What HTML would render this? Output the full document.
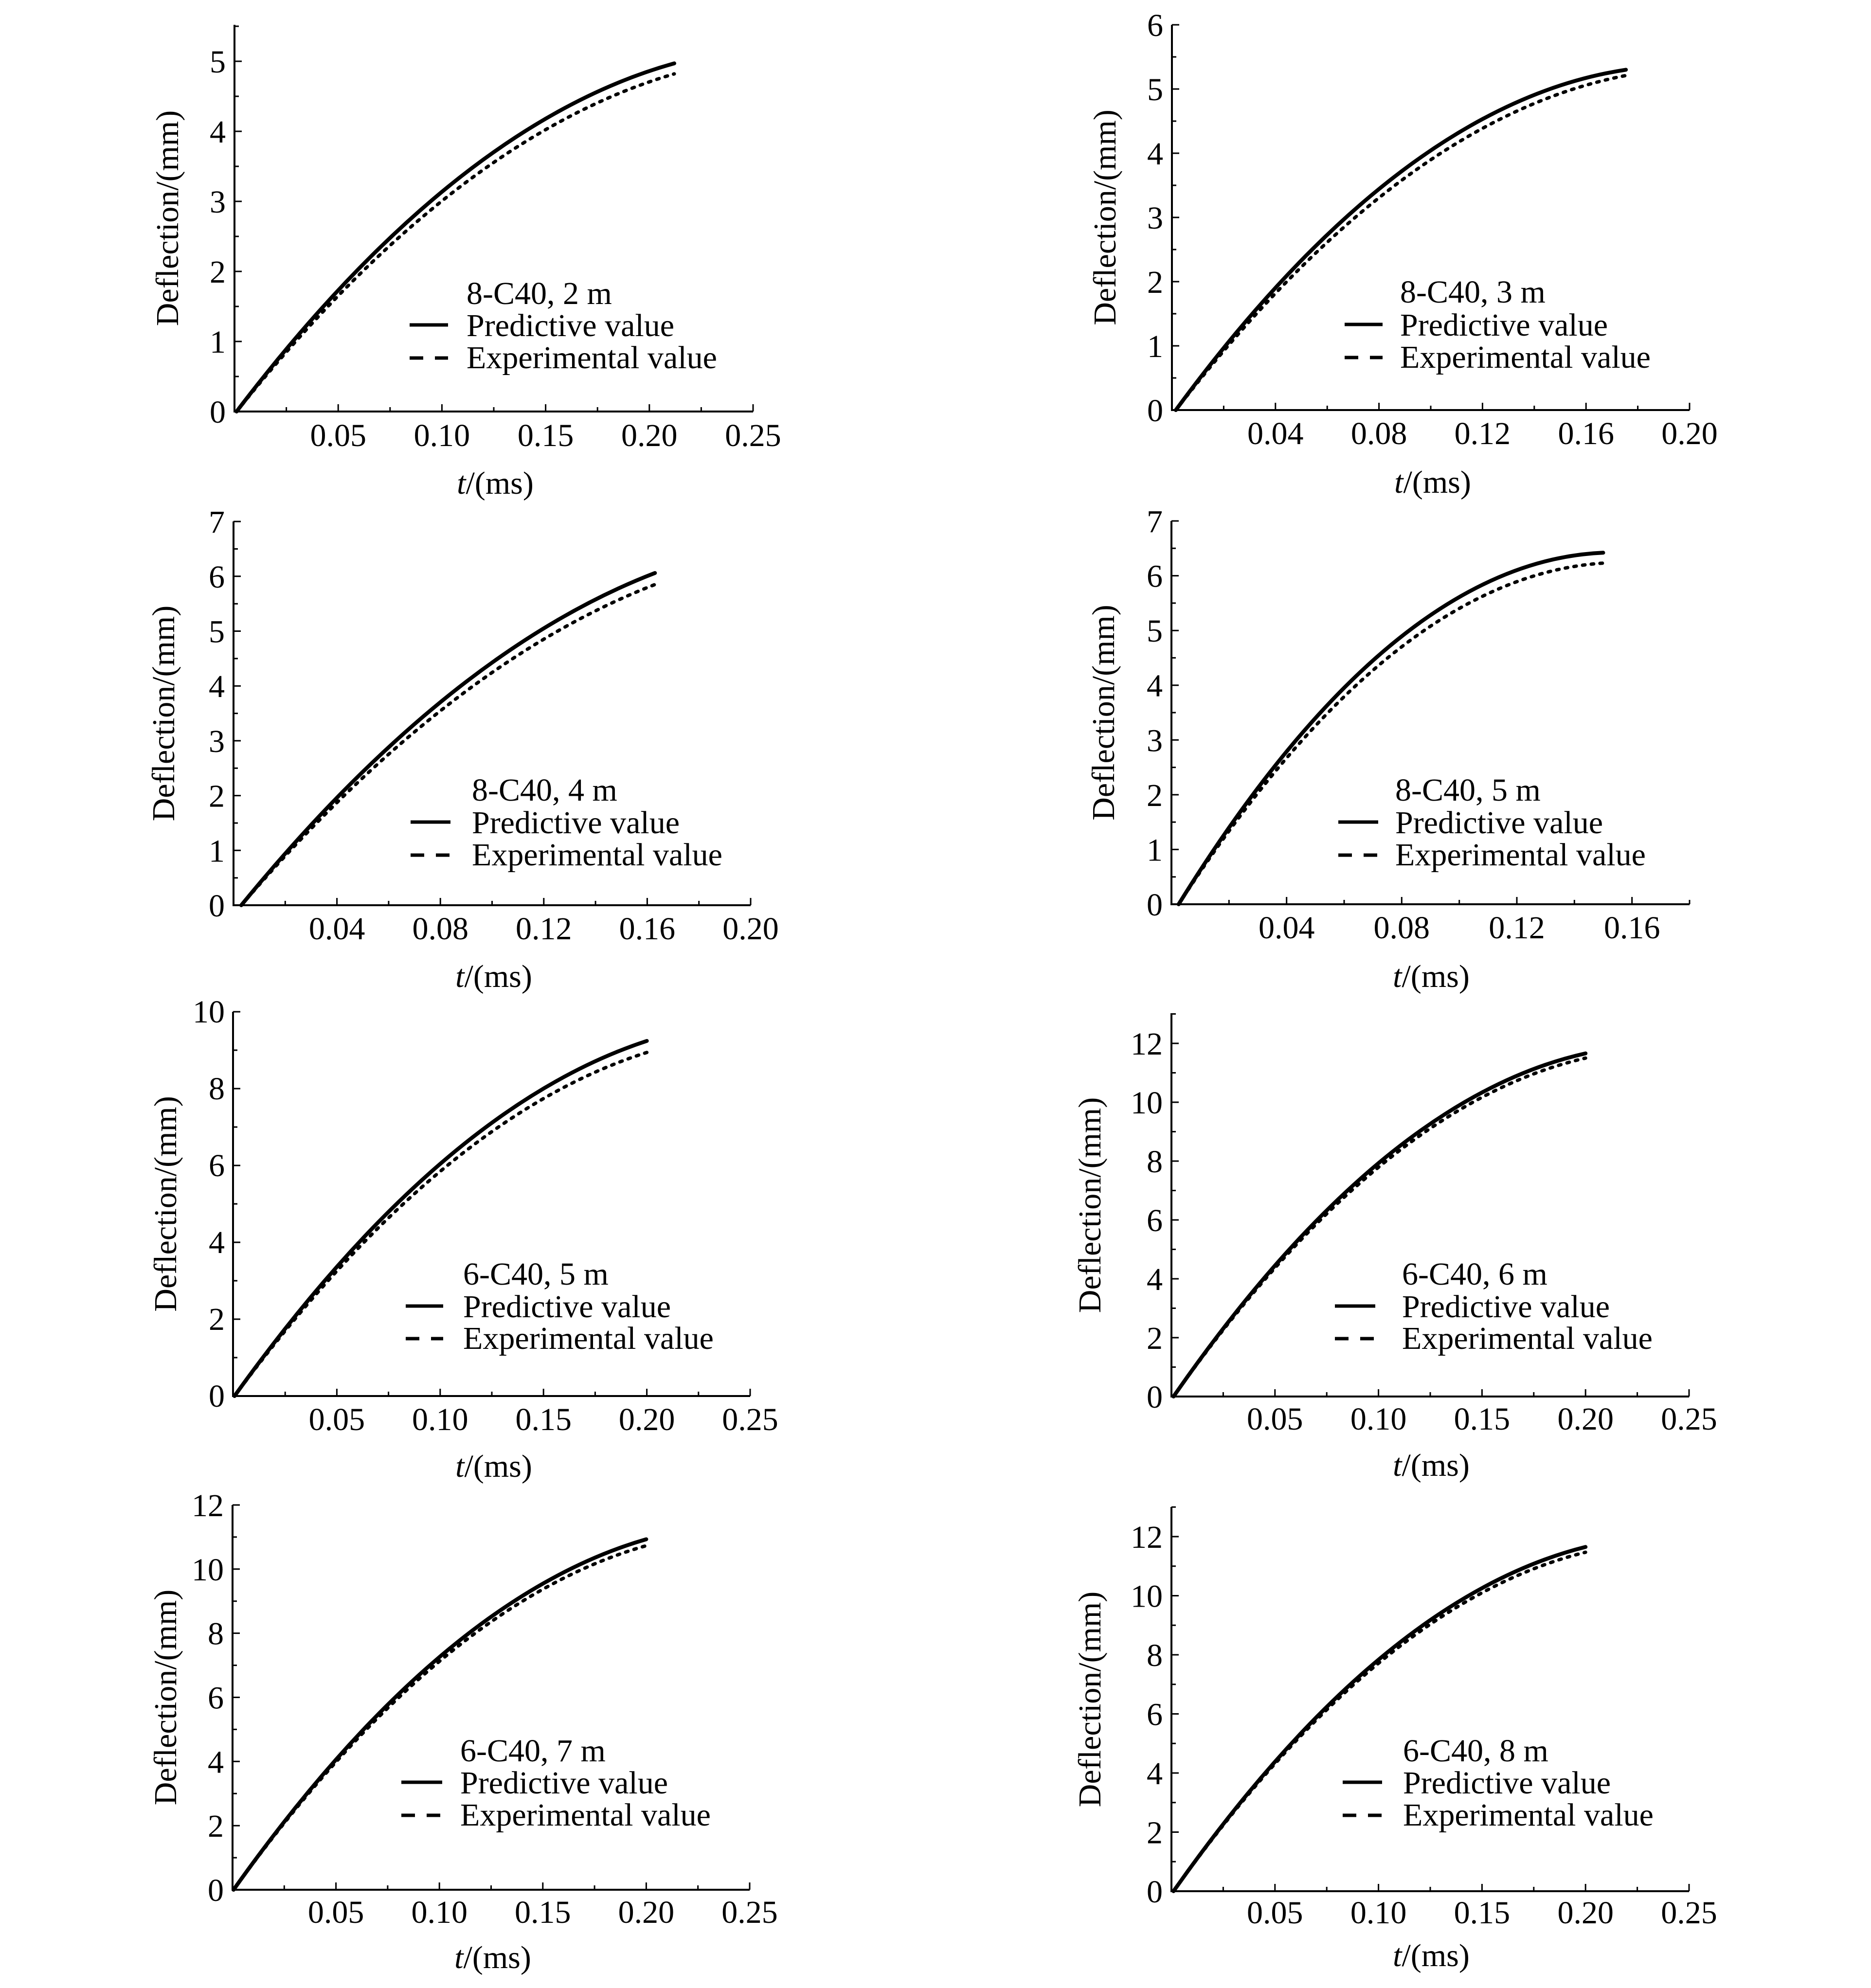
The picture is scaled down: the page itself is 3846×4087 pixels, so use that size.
<!DOCTYPE html>
<html><head><meta charset="utf-8"><style>
html,body{margin:0;padding:0;background:#fff;}
svg{display:block}
text{font-family:"Liberation Serif","Times New Roman",serif;font-size:66px;fill:#000}
.ax{fill:none;stroke:#000;stroke-width:4}
.tk{fill:none;stroke:#000;stroke-width:3}
.s{fill:none;stroke:#000;stroke-width:8;stroke-linecap:round}
.d{fill:none;stroke:#000;stroke-width:7;stroke-linecap:round;stroke-dasharray:5 13}
.ls{fill:none;stroke:#000;stroke-width:7}
.ld{fill:none;stroke:#000;stroke-width:7;stroke-dasharray:28 24}
.ye{text-anchor:end}
.xm{text-anchor:middle}
</style></head><body>
<svg width="3846" height="4087" viewBox="0 0 3846 4087" xmlns="http://www.w3.org/2000/svg">
<rect width="3846" height="4087" fill="#fff"/>

<!-- Panel 1 -->
<path class="ax" d="M482,51 V846 H1548"/>
<path class="tk" d="M588.6,846v-9 M695.2,846v-15 M801.8,846v-9 M908.4,846v-15 M1015,846v-9 M1121.6,846v-15 M1228.2,846v-9 M1334.8,846v-15 M1441.4,846v-9 M1548,846v-15 M482,774h9 M482,702h15 M482,630h9 M482,558h15 M482,486h9 M482,414h15 M482,342h9 M482,270h15 M482,198h9 M482,126h15 M482,54h9"/>
<g class="ye"><text x="464" y="869">0</text><text x="464" y="725">1</text><text x="464" y="581">2</text><text x="464" y="437">3</text><text x="464" y="293">4</text><text x="464" y="149">5</text></g>
<g class="xm"><text x="695.2" y="917">0.05</text><text x="908.4" y="917">0.10</text><text x="1121.6" y="917">0.15</text><text x="1334.8" y="917">0.20</text><text x="1548" y="917">0.25</text></g>
<text class="xm" x="1018" y="1015"><tspan font-style="italic">t</tspan>/(ms)</text>
<text class="xm" transform="translate(366,448.5) rotate(-90)">Deflection/(mm)</text>
<path class="s" d="M486.3,846 Q936.1,255.5 1386,130.3"/>
<path class="d" d="M486.3,846 Q936.1,283.8 1386,151.9"/>
<text x="959" y="625">8-C40, 2 m</text><text x="959" y="691">Predictive value</text><text x="959" y="757">Experimental value</text>
<path class="ls" d="M842,668 H921"/><path class="ld" d="M842,736 H921"/>

<!-- Panel 2 -->
<path class="ax" d="M2409,51 V843 H3473"/>
<path class="tk" d="M2515.4,843v-9 M2621.8,843v-15 M2728.2,843v-9 M2834.6,843v-15 M2941,843v-9 M3047.4,843v-15 M3153.8,843v-9 M3260.2,843v-15 M3366.6,843v-9 M3473,843v-15 M2409,777h9 M2409,711h15 M2409,645h9 M2409,579h15 M2409,513h9 M2409,447h15 M2409,381h9 M2409,315h15 M2409,249h9 M2409,183h15 M2409,117h9 M2409,51h15"/>
<g class="ye"><text x="2391" y="866">0</text><text x="2391" y="734">1</text><text x="2391" y="602">2</text><text x="2391" y="470">3</text><text x="2391" y="338">4</text><text x="2391" y="206">5</text><text x="2391" y="74">6</text></g>
<g class="xm"><text x="2621.8" y="913">0.04</text><text x="2834.6" y="913">0.08</text><text x="3047.4" y="913">0.12</text><text x="3260.2" y="913">0.16</text><text x="3473" y="913">0.20</text></g>
<text class="xm" x="2945" y="1013"><tspan font-style="italic">t</tspan>/(ms)</text>
<text class="xm" transform="translate(2293,447) rotate(-90)">Deflection/(mm)</text>
<path class="s" d="M2417,843 Q2879.6,213.4 3342.1,143.4"/>
<path class="d" d="M2417,843 Q2879.6,244.7 3342.1,155.3"/>
<text x="2878" y="622">8-C40, 3 m</text><text x="2878" y="690">Predictive value</text><text x="2878" y="756">Experimental value</text>
<path class="ls" d="M2764,667 H2842"/><path class="ld" d="M2764,735 H2842"/>

<!-- Panel 3 -->
<path class="ax" d="M480,1072 V1861 H1543"/>
<path class="tk" d="M586.3,1861v-9 M692.6,1861v-15 M798.9,1861v-9 M905.2,1861v-15 M1011.5,1861v-9 M1117.8,1861v-15 M1224.1,1861v-9 M1330.4,1861v-15 M1436.7,1861v-9 M1543,1861v-15 M480,1804.7h9 M480,1748.3h15 M480,1692h9 M480,1635.6h15 M480,1579.3h9 M480,1522.9h15 M480,1466.6h9 M480,1410.2h15 M480,1353.9h9 M480,1297.5h15 M480,1241.2h9 M480,1184.8h15 M480,1128.5h9 M480,1072.1h15"/>
<g class="ye"><text x="462" y="1884">0</text><text x="462" y="1771.3">1</text><text x="462" y="1658.6">2</text><text x="462" y="1545.9">3</text><text x="462" y="1433.2">4</text><text x="462" y="1320.5">5</text><text x="462" y="1207.8">6</text><text x="462" y="1095.1">7</text></g>
<g class="xm"><text x="692.6" y="1931">0.04</text><text x="905.2" y="1931">0.08</text><text x="1117.8" y="1931">0.12</text><text x="1330.4" y="1931">0.16</text><text x="1543" y="1931">0.20</text></g>
<text class="xm" x="1015" y="2029"><tspan font-style="italic">t</tspan>/(ms)</text>
<text class="xm" transform="translate(358,1466.5) rotate(-90)">Deflection/(mm)</text>
<path class="s" d="M496,1861 Q921.2,1341.9 1346.3,1178"/>
<path class="d" d="M496,1861 Q921.2,1366.5 1346.3,1201.7"/>
<text x="970" y="1646">8-C40, 4 m</text><text x="970" y="1713">Predictive value</text><text x="970" y="1779">Experimental value</text>
<path class="ls" d="M844,1690 H926"/><path class="ld" d="M844,1758 H926"/>

<!-- Panel 4 -->
<path class="ax" d="M2408,1071 V1859 H3473"/>
<path class="tk" d="M2526.3,1859v-9 M2644.7,1859v-15 M2763,1859v-9 M2881.3,1859v-15 M2999.7,1859v-9 M3118,1859v-15 M3236.3,1859v-9 M3354.7,1859v-15 M3473,1859v-9 M2408,1802.7h9 M2408,1746.4h15 M2408,1690.1h9 M2408,1633.9h15 M2408,1577.6h9 M2408,1521.3h15 M2408,1465h9 M2408,1408.7h15 M2408,1352.4h9 M2408,1296.2h15 M2408,1239.9h9 M2408,1183.6h15 M2408,1127.3h9 M2408,1071h15"/>
<g class="ye"><text x="2390" y="1882">0</text><text x="2390" y="1769.4">1</text><text x="2390" y="1656.9">2</text><text x="2390" y="1544.3">3</text><text x="2390" y="1431.7">4</text><text x="2390" y="1319.2">5</text><text x="2390" y="1206.6">6</text><text x="2390" y="1094">7</text></g>
<g class="xm"><text x="2644.7" y="1929">0.04</text><text x="2881.3" y="1929">0.08</text><text x="3118" y="1929">0.12</text><text x="3354.7" y="1929">0.16</text></g>
<text class="xm" x="2942" y="2029"><tspan font-style="italic">t</tspan>/(ms)</text>
<text class="xm" transform="translate(2290,1465) rotate(-90)">Deflection/(mm)</text>
<path class="s" d="M2422.8,1859 Q2859.2,1154.4 3295.5,1136.3"/>
<path class="d" d="M2422.8,1859 Q2859.2,1185.8 3295.5,1157.7"/>
<text x="2868" y="1646">8-C40, 5 m</text><text x="2868" y="1713">Predictive value</text><text x="2868" y="1779">Experimental value</text>
<path class="ls" d="M2751,1690 H2833"/><path class="ld" d="M2751,1758 H2833"/>

<!-- Panel 5 -->
<path class="ax" d="M479,2080 V2870 H1542"/>
<path class="tk" d="M586.2,2870v-9 M692.4,2870v-15 M798.6,2870v-9 M904.8,2870v-15 M1011,2870v-9 M1117.2,2870v-15 M1223.4,2870v-9 M1329.6,2870v-15 M1435.8,2870v-9 M1542,2870v-15 M479,2791h9 M479,2712h15 M479,2633h9 M479,2554h15 M479,2475h9 M479,2396h15 M479,2317h9 M479,2238h15 M479,2159h9 M479,2080h15"/>
<g class="ye"><text x="462" y="2892">0</text><text x="462" y="2734">2</text><text x="462" y="2576">4</text><text x="462" y="2418">6</text><text x="462" y="2260">8</text><text x="462" y="2102">10</text></g>
<g class="xm"><text x="692.4" y="2940">0.05</text><text x="904.8" y="2940">0.10</text><text x="1117.2" y="2940">0.15</text><text x="1329.6" y="2940">0.20</text><text x="1542" y="2940">0.25</text></g>
<text class="xm" x="1015" y="3036"><tspan font-style="italic">t</tspan>/(ms)</text>
<text class="xm" transform="translate(362,2475) rotate(-90)">Deflection/(mm)</text>
<path class="s" d="M482.1,2870 Q905.9,2278.7 1329.6,2140"/>
<path class="d" d="M482.1,2870 Q905.9,2297.9 1329.6,2163.7"/>
<text x="952" y="2641">6-C40, 5 m</text><text x="952" y="2708">Predictive value</text><text x="952" y="2773">Experimental value</text>
<path class="ls" d="M834,2685 H911"/><path class="ld" d="M834,2752 H911"/>

<!-- Panel 6 -->
<path class="ax" d="M2408,2083 V2871 H3472"/>
<path class="tk" d="M2514.4,2871v-9 M2620.8,2871v-15 M2727.2,2871v-9 M2833.6,2871v-15 M2940,2871v-9 M3046.4,2871v-15 M3152.8,2871v-9 M3259.2,2871v-15 M3365.6,2871v-9 M3472,2871v-15 M2408,2810.5h9 M2408,2750h15 M2408,2689.5h9 M2408,2629h15 M2408,2568.5h9 M2408,2508h15 M2408,2447.5h9 M2408,2387h15 M2408,2326.5h9 M2408,2266h15 M2408,2205.5h9 M2408,2145h15 M2408,2084.5h9"/>
<g class="ye"><text x="2390" y="2894">0</text><text x="2390" y="2773">2</text><text x="2390" y="2652">4</text><text x="2390" y="2531">6</text><text x="2390" y="2410">8</text><text x="2390" y="2289">10</text><text x="2390" y="2168">12</text></g>
<g class="xm"><text x="2620.8" y="2939">0.05</text><text x="2833.6" y="2939">0.10</text><text x="3046.4" y="2939">0.15</text><text x="3259.2" y="2939">0.20</text><text x="3472" y="2939">0.25</text></g>
<text class="xm" x="2942" y="3034"><tspan font-style="italic">t</tspan>/(ms)</text>
<text class="xm" transform="translate(2262,2477.5) rotate(-90)">Deflection/(mm)</text>
<path class="s" d="M2412.3,2871 Q2835.7,2260.8 3259.2,2165.6"/>
<path class="d" d="M2412.3,2871 Q2835.7,2272.7 3259.2,2175.3"/>
<text x="2882" y="2641">6-C40, 6 m</text><text x="2882" y="2708">Predictive value</text><text x="2882" y="2773">Experimental value</text>
<path class="ls" d="M2744,2685 H2827"/><path class="ld" d="M2744,2752 H2827"/>

<!-- Panel 7 -->
<path class="ax" d="M478,3094 V3885 H1541"/>
<path class="tk" d="M584.3,3885v-9 M690.6,3885v-15 M796.9,3885v-9 M903.2,3885v-15 M1009.5,3885v-9 M1115.8,3885v-15 M1222.1,3885v-9 M1328.4,3885v-15 M1434.7,3885v-9 M1541,3885v-15 M478,3819.1h9 M478,3753.2h15 M478,3687.2h9 M478,3621.3h15 M478,3555.4h9 M478,3489.5h15 M478,3423.6h9 M478,3357.6h15 M478,3291.7h9 M478,3225.8h15 M478,3159.9h9 M478,3094h15"/>
<g class="ye"><text x="460" y="3908">0</text><text x="460" y="3776.2">2</text><text x="460" y="3644.3">4</text><text x="460" y="3512.5">6</text><text x="460" y="3380.6">8</text><text x="460" y="3248.8">10</text><text x="460" y="3117">12</text></g>
<g class="xm"><text x="690.6" y="3953">0.05</text><text x="903.2" y="3953">0.10</text><text x="1115.8" y="3953">0.15</text><text x="1328.4" y="3953">0.20</text><text x="1541" y="3953">0.25</text></g>
<text class="xm" x="1013" y="4046"><tspan font-style="italic">t</tspan>/(ms)</text>
<text class="xm" transform="translate(362,3489.5) rotate(-90)">Deflection/(mm)</text>
<path class="s" d="M480.1,3885 Q904.3,3287 1328.4,3164.5"/>
<path class="d" d="M480.1,3885 Q904.3,3297.9 1328.4,3177.7"/>
<text x="946" y="3621">6-C40, 7 m</text><text x="946" y="3687">Predictive value</text><text x="946" y="3753">Experimental value</text>
<path class="ls" d="M825,3664 H909"/><path class="ld" d="M825,3732 H909"/>

<!-- Panel 8 -->
<path class="ax" d="M2408,3098 V3888 H3472"/>
<path class="tk" d="M2514.4,3888v-9 M2620.8,3888v-15 M2727.2,3888v-9 M2833.6,3888v-15 M2940,3888v-9 M3046.4,3888v-15 M3152.8,3888v-9 M3259.2,3888v-15 M3365.6,3888v-9 M3472,3888v-15 M2408,3827.3h9 M2408,3766.5h15 M2408,3705.8h9 M2408,3645h15 M2408,3584.3h9 M2408,3523.5h15 M2408,3462.8h9 M2408,3402h15 M2408,3341.3h9 M2408,3280.5h15 M2408,3219.8h9 M2408,3159h15 M2408,3098.3h9"/>
<g class="ye"><text x="2390" y="3911">0</text><text x="2390" y="3789.5">2</text><text x="2390" y="3668">4</text><text x="2390" y="3546.5">6</text><text x="2390" y="3425">8</text><text x="2390" y="3303.5">10</text><text x="2390" y="3182">12</text></g>
<g class="xm"><text x="2620.8" y="3954">0.05</text><text x="2833.6" y="3954">0.10</text><text x="3046.4" y="3954">0.15</text><text x="3259.2" y="3954">0.20</text><text x="3472" y="3954">0.25</text></g>
<text class="xm" x="2942" y="4042"><tspan font-style="italic">t</tspan>/(ms)</text>
<text class="xm" transform="translate(2262,3493.5) rotate(-90)">Deflection/(mm)</text>
<path class="s" d="M2412.3,3888 Q2835.7,3286.5 3259.2,3180.3"/>
<path class="d" d="M2412.3,3888 Q2835.7,3295.7 3259.2,3191.2"/>
<text x="2884" y="3621">6-C40, 8 m</text><text x="2884" y="3687">Predictive value</text><text x="2884" y="3753">Experimental value</text>
<path class="ls" d="M2760,3664 H2841"/><path class="ld" d="M2760,3732 H2841"/>
</svg>
</body></html>
